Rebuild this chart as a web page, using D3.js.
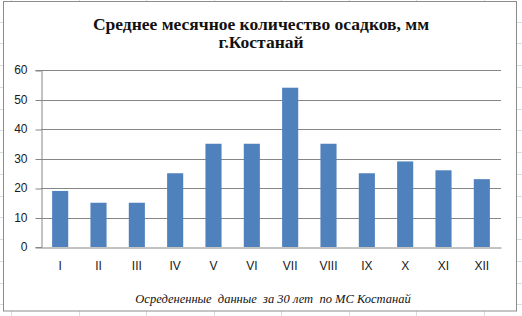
<!DOCTYPE html>
<html>
<head>
<meta charset="utf-8">
<script src="https://cdn.jsdelivr.net/npm/d3@7"></script>
<style>
  html, body { margin: 0; padding: 0; background: #fff; }
  svg { display: block; }
</style>
</head>
<body>
<div id="chart"></div>
<script>
'use strict';

// monthly precipitation, mm
const months = ['I', 'II', 'III', 'IV', 'V', 'VI', 'VII', 'VIII', 'IX', 'X', 'XI', 'XII'];
const precip = [19, 15, 15, 25, 35, 35, 54, 35, 25, 29, 26, 23];
const yTicks = [0, 10, 20, 30, 40, 50, 60];

const titleLines = ['Среднее месячное количество осадков, мм', 'г.Костанай'];
const footnote = 'Осредененные  данные  за 30 лет  по МС Костанай';

const W = 522, H = 316;
const plot = { left: 41, right: 501, top: 70, bottom: 247 };

const svg = d3.select('#chart').append('svg')
  .attr('width', W)
  .attr('height', H);

// faint spreadsheet cells behind the chart object
const sheet = svg.append('g').attr('stroke', '#dadcdd').attr('stroke-width', 1);
d3.range(21.5, H, 21.75).forEach(function(y) {
  sheet.append('line').attr('x1', 0).attr('x2', W)
    .attr('y1', Math.round(y) + 0.5).attr('y2', Math.round(y) + 0.5);
});
d3.range(11, W, 67.5).forEach(function(x) {
  sheet.append('line').attr('y1', 0).attr('y2', H)
    .attr('x1', Math.round(x) + 0.5).attr('x2', Math.round(x) + 0.5);
});

// chart area
svg.append('rect')
  .attr('x', 3.5).attr('y', 1.5)
  .attr('width', 513).attr('height', 309.5)
  .attr('fill', '#fff')
  .attr('stroke', '#8c8c8c');

const x = d3.scaleBand()
  .domain(months)
  .range([plot.left, plot.right])
  .paddingInner(0.58)
  .paddingOuter(0.29);

const y = d3.scaleLinear()
  .domain([0, 60])
  .range([plot.bottom, plot.top]);

// gridlines
svg.append('g')
  .selectAll('line')
  .data(yTicks.slice(1))
  .join('line')
  .attr('x1', plot.left).attr('x2', plot.right)
  .attr('y1', d => Math.round(y(d)) + 0.5)
  .attr('y2', d => Math.round(y(d)) + 0.5)
  .attr('stroke', '#868686');

// bars
svg.append('g')
  .selectAll('rect')
  .data(precip)
  .join('rect')
  .attr('x', (d, i) => x(months[i]))
  .attr('y', d => y(d))
  .attr('width', x.bandwidth())
  .attr('height', d => y(0) - y(d))
  .attr('fill', '#4f81bd');

// y axis
const yAxis = svg.append('g')
  .attr('transform', 'translate(' + (plot.left + 0.5) + ',0)')
  .call(d3.axisLeft(y).tickValues(yTicks).tickSize(6).tickPadding(8));
yAxis.select('.domain').attr('stroke', '#868686');
yAxis.selectAll('.tick line').attr('stroke', '#868686')
  .attr('transform', 'translate(0,0.5)');
yAxis.selectAll('.tick text')
  .attr('font-family', '"Liberation Sans", Arial, sans-serif')
  .attr('font-size', 12)
  .attr('fill', '#1a1a1a');

// x axis
const xAxis = svg.append('g')
  .attr('transform', 'translate(0,' + (plot.bottom + 0.5) + ')')
  .call(d3.axisBottom(x).tickSize(0).tickPadding(14));
xAxis.select('.domain').attr('stroke', '#868686');
xAxis.selectAll('.tick text')
  .attr('font-family', '"Liberation Sans", Arial, sans-serif')
  .attr('font-size', 12)
  .attr('fill', '#1a1a1a');

// title
svg.append('g')
  .selectAll('text')
  .data(titleLines)
  .join('text')
  .attr('x', 261)
  .attr('y', (d, i) => 30 + i * 18)
  .attr('text-anchor', 'middle')
  .attr('font-family', '"Liberation Serif", "Times New Roman", serif')
  .attr('font-weight', 'bold')
  .attr('font-size', 17.5)
  .attr('fill', '#111')
  .text(d => d);

// source note
svg.append('text')
  .attr('x', 273)
  .attr('y', 303)
  .attr('text-anchor', 'middle')
  .attr('font-family', '"Liberation Serif", "Times New Roman", serif')
  .attr('font-style', 'italic')
  .attr('font-size', 12.5)
  .attr('fill', '#111')
  .style('white-space', 'pre')
  .text(footnote);
</script>
</body>
</html>
